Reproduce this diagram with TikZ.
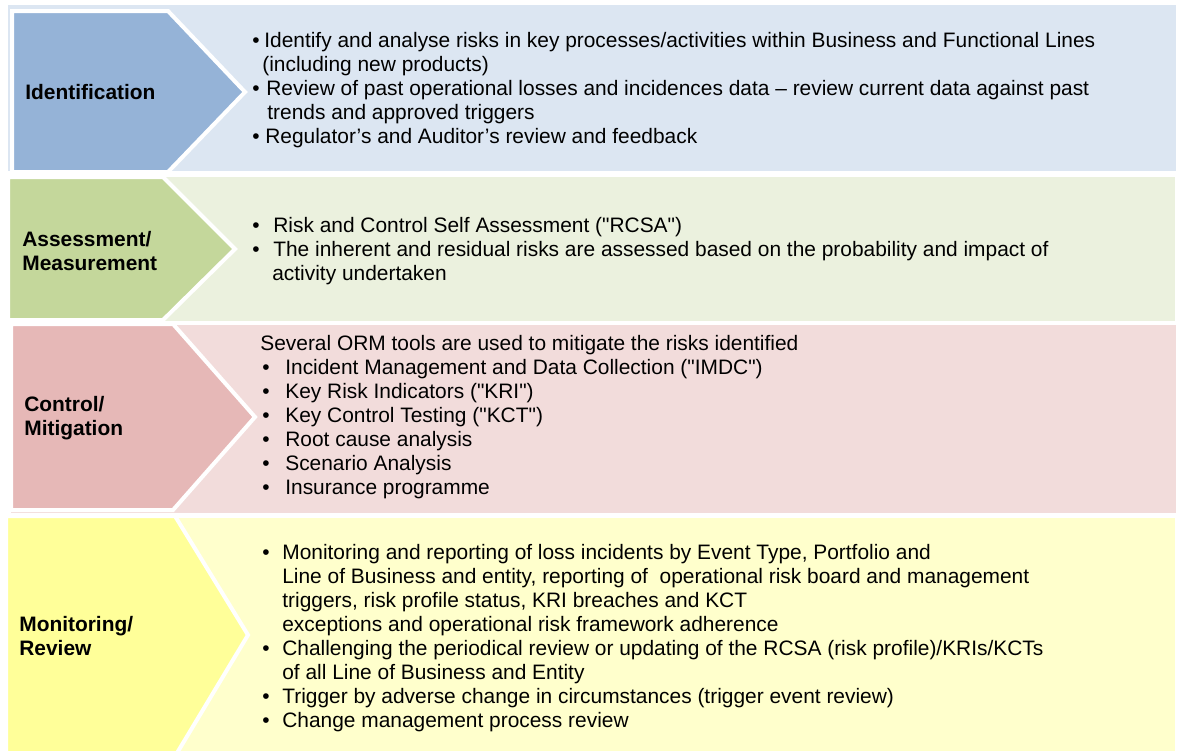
\documentclass[tikz,border=0pt]{standalone}
\usepackage{fontspec}
\setmainfont{Liberation Sans}[Ligatures=TeXOff]

\definecolor{identdark}{HTML}{95B3D7}
\definecolor{identlight}{HTML}{DCE6F2}
\definecolor{assessdark}{HTML}{C4D79B}
\definecolor{assesslight}{HTML}{EBF1DE}
\definecolor{controldark}{HTML}{E6B8B7}
\definecolor{controllight}{HTML}{F2DCDB}
\definecolor{monitordark}{HTML}{FFFF99}
\definecolor{monitorlight}{HTML}{FFFFCC}

% one unit = one step of the grid used below
\newlength{\pxunit}
\setlength{\pxunit}{0.02cm}
\newcommand{\topline}{\rule{0pt}{10pt}}
\newcommand{\bul}[1]{\makebox[#1\pxunit][l]{•}}
\newcommand{\cont}[1]{\hspace*{#1\pxunit}}

\tikzset{
    chevron/.style={draw=white, line width=4\pxunit, line join=miter},
    stage/.style={anchor=west, align=left, inner sep=0pt,
        font=\fontsize{11.9pt}{13.6pt}\selectfont\bfseries},
    points/.style={anchor=north west, align=left, inner sep=0pt,
        font=\fontsize{11.9pt}{13.6pt}\selectfont},
}

\begin{document}
\begin{tikzpicture}[x=0.02cm, y=-0.02cm]
    \useasboundingbox (0,0) rectangle (1179,751);

    % panels
    \fill[identlight] (8,5) rectangle (1176,171);
    \fill[assesslight] (8,177) rectangle (1175,321);
    \fill[controllight] (11,325) rectangle (1176,513);
    \fill[monitorlight] (6,518) rectangle (1175,751);

    % chevrons
    \filldraw[chevron, fill=identdark] (12,11) -- (168,11) -- (245,92) -- (168,172) -- (12,172) -- cycle;
    \filldraw[chevron, fill=assessdark] (8,177) -- (163,177) -- (235,249) -- (163,320) -- (8,320) -- cycle;
    \filldraw[chevron, fill=controldark] (11,324) -- (173,324) -- (255,417) -- (173,510) -- (11,510) -- cycle;
    \filldraw[chevron, fill=monitordark] (6,516) -- (175,516) -- (248,635) -- (177,753) -- (6,753) -- cycle;

    % stage names
    \node[stage] (ident) at (25,92) {Identification};
    \node[stage] (assess) at (22,251) {Assessment/\\Measurement};
    \node[stage] (control) at (24,418) {Control/\\Mitigation};
    \node[stage] (monitor) at (19,636) {Monitoring/\\Review};

    % what each stage covers
    \node[points] (identtext) at (252,30) {\topline\bul{12}Identify and analyse risks in key processes/activities within Business and Functional Lines\\
        \cont{10}(including new products)\\
        \bul{14}Review of past operational losses and incidences data – review current data against past\\
        \cont{15}trends and approved triggers\\
        \bul{13}Regulator’s and Auditor’s review and feedback};

    \node[points] (assesstext) at (252,215) {\topline\bul{21}Risk and Control Self Assessment ("RCSA")\\
        \bul{21}The inherent and residual risks are assessed based on the probability and impact of\\
        \cont{20}activity undertaken};

    \node[points] (controltext) at (260,333) {\topline Several ORM tools are used to mitigate the risks identified\\
        \cont{2}\bul{23}Incident Management and Data Collection ("IMDC")\\
        \cont{2}\bul{23}Key Risk Indicators ("KRI")\\
        \cont{2}\bul{23}Key Control Testing ("KCT")\\
        \cont{2}\bul{23}Root cause analysis\\
        \cont{2}\bul{23}Scenario Analysis\\
        \cont{2}\bul{23}Insurance programme};

    \node[points] (monitortext) at (262,542) {\topline\bul{20}Monitoring and reporting of loss incidents by Event Type, Portfolio and\\
        \cont{20}Line of Business and entity, reporting of \ operational risk board and management\\
        \cont{20}triggers, risk profile status, KRI breaches and KCT\\
        \cont{20}exceptions and operational risk framework adherence\\
        \bul{20}Challenging the periodical review or updating of the RCSA (risk profile)/KRIs/KCTs\\
        \cont{20}of all Line of Business and Entity\\
        \bul{20}Trigger by adverse change in circumstances (trigger event review)\\
        \bul{20}Change management process review};
\end{tikzpicture}
\end{document}
